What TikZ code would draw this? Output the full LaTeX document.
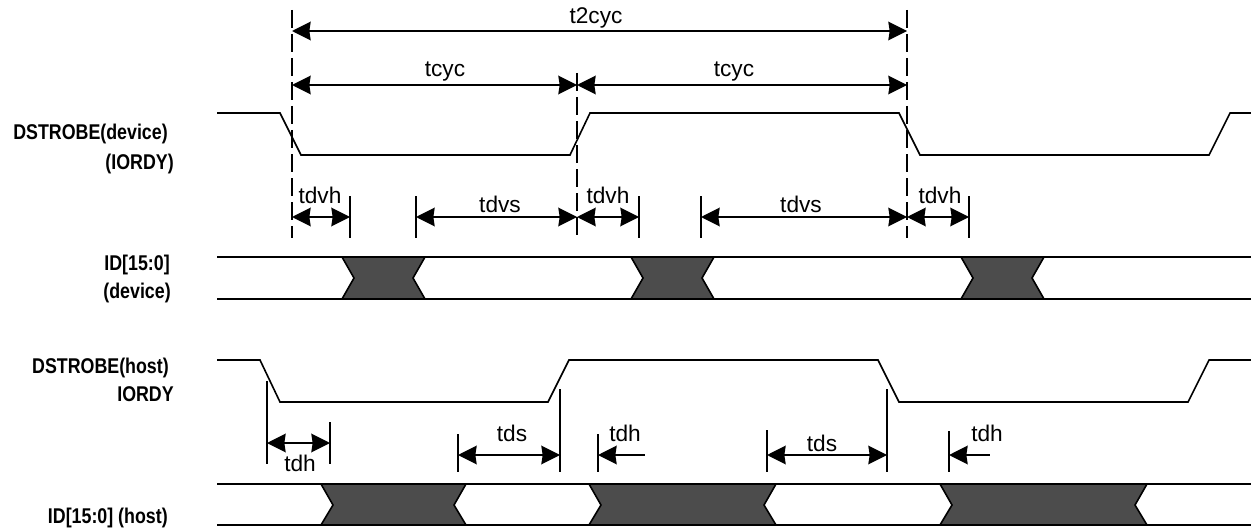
\documentclass[tikz,border=0pt]{standalone}
\usepackage{fontspec}
\setmainfont{Liberation Sans}
\newfontfamily\narrowfont[FakeStretch=0.835]{Liberation Sans}
\usetikzlibrary{arrows.meta}
\tikzset{
    signal/.style={line width=1.2pt, line join=miter},
    guide/.style={line width=1.1pt, dash pattern=on 13.5pt off 4.5pt},
    tick/.style={line width=1.1pt},
    span/.style={line width=1.2pt, {Stealth[length=14pt, width=14pt, inset=1pt]}-{Stealth[length=14pt, width=14pt, inset=1pt]}},
    lead/.style={line width=1.2pt, {Stealth[length=14pt, width=14pt, inset=1pt]}-},
    busy/.style={line width=1.2pt, fill=black!70},
    siglabel/.style={font=\narrowfont\bfseries\fontsize{16}{19}\selectfont, anchor=base east, inner sep=0pt},
    timelabel/.style={font=\fontsize{17}{20}\selectfont, inner sep=0pt}
}

\begin{document}
\begin{tikzpicture}[x=0.75pt, y=-0.75pt]
    \useasboundingbox (0,0) rectangle (1251,531);

    % Signal names
    \node (dev_name) [siglabel] at (168,140) {DSTROBE(device)};
    \node (dev_iordy) [siglabel] at (174,170) {(IORDY)};
    \node (idd_name) [siglabel] at (170,270) {ID[15:0]};
    \node (idd_dev) [siglabel] at (171,298) {(device)};
    \node (host_name) [siglabel] at (169,373) {DSTROBE(host)};
    \node (host_iordy) [siglabel] at (174,401) {IORDY};
    \node (idh_name) [siglabel] at (168,523) {ID[15:0] (host)};

    % Strobe waveforms
    \draw[signal] (217,113) -- (280,113) -- (301,155) -- (570,155) -- (590,113) -- (899,113) -- (920,155) -- (1209,155) -- (1230,113) -- (1251,113);
    \draw[signal] (217,360) -- (260,360) -- (280,402) -- (548,402) -- (569,360) -- (878,360) -- (899,402) -- (1188,402) -- (1209,360) -- (1251,360);

    % Data buses
    \foreach \l/\r in {342/425, 631/714, 961/1044}
        \draw[busy] (\l,257) -- (\r,257) -- (\r-12,278) -- (\r,299) -- (\l,299) -- (\l+12,278) -- cycle;
    \foreach \l/\r in {321/466, 589/776, 940/1147}
        \draw[busy] (\l,484) -- (\r,484) -- (\r-12,505) -- (\r,525) -- (\l,525) -- (\l+12,505) -- cycle;
    \foreach \y in {257, 299, 484, 525}
        \draw[signal] (217,\y) -- (1251,\y);

    % Cycle guides
    \draw[guide] (292,10) -- (292,238);
    \draw[guide] (577,73) -- (577,238);
    \draw[guide] (907,10) -- (907,238);

    % Device ticks
    \foreach \x in {350, 416, 639, 701, 969}
        \draw[tick] (\x,196) -- (\x,238);

    % Host ticks
    \draw[tick] (267,381) -- (267,464);
    \draw[tick] (330,422) -- (330,464);
    \draw[tick] (458,434) -- (458,472);
    \draw[tick] (560,389) -- (560,472);
    \draw[tick] (598,434) -- (598,472);
    \draw[tick] (767,430) -- (767,472);
    \draw[tick] (887,389) -- (887,472);
    \draw[tick] (949,431) -- (949,472);

    % Cycle spans
    \coordinate (g1_top) at (292,31);
    \coordinate (g3_top) at (907,31);
    \coordinate (g1_mid) at (292,85);
    \coordinate (g2_mid) at (577,85);
    \coordinate (g3_mid) at (907,85);
    \draw[span] (g1_top) -- (g3_top);
    \draw[span] (g1_mid) -- (g2_mid);
    \draw[span] (g2_mid) -- (g3_mid);
    \node (t2cyc) [timelabel] at (596,18) {t2cyc};
    \node (tcyc_a) [timelabel] at (445,72) {tcyc};
    \node (tcyc_b) [timelabel] at (734,72) {tcyc};

    % Device setup and hold
    \coordinate (dv1) at (292,217);
    \coordinate (dv2) at (350,217);
    \coordinate (dv3) at (416,217);
    \coordinate (dv4) at (577,217);
    \coordinate (dv5) at (639,217);
    \coordinate (dv6) at (701,217);
    \coordinate (dv7) at (907,217);
    \coordinate (dv8) at (969,217);
    \draw[span] (dv1) -- (dv2);
    \draw[span] (dv3) -- (dv4);
    \draw[span] (dv4) -- (dv5);
    \draw[span] (dv6) -- (dv7);
    \draw[span] (dv7) -- (dv8);
    \node (tdvh_a) [timelabel] at (320,195) {tdvh};
    \node (tdvs_a) [timelabel] at (500,204) {tdvs};
    \node (tdvh_b) [timelabel] at (608,195) {tdvh};
    \node (tdvs_b) [timelabel] at (801,204) {tdvs};
    \node (tdvh_c) [timelabel] at (940,195) {tdvh};

    % Host setup and hold
    \coordinate (hh1) at (267,443);
    \coordinate (hh2) at (330,443);
    \coordinate (hs1) at (458,455);
    \coordinate (hs2) at (560,455);
    \coordinate (hh3) at (598,455);
    \coordinate (hh3_end) at (645,455);
    \coordinate (hs3) at (767,455);
    \coordinate (hs4) at (887,455);
    \coordinate (hh4) at (949,455);
    \coordinate (hh4_end) at (990,455);
    \draw[span] (hh1) -- (hh2);
    \draw[span] (hs1) -- (hs2);
    \draw[lead] (hh3) -- (hh3_end);
    \draw[span] (hs3) -- (hs4);
    \draw[lead] (hh4) -- (hh4_end);
    \node (tdh_a) [timelabel] at (300,463) {tdh};
    \node (tds_a) [timelabel] at (512,433) {tds};
    \node (tdh_b) [timelabel] at (625,433) {tdh};
    \node (tds_b) [timelabel] at (822,443) {tds};
    \node (tdh_c) [timelabel] at (987,433) {tdh};
\end{tikzpicture}
\end{document}
